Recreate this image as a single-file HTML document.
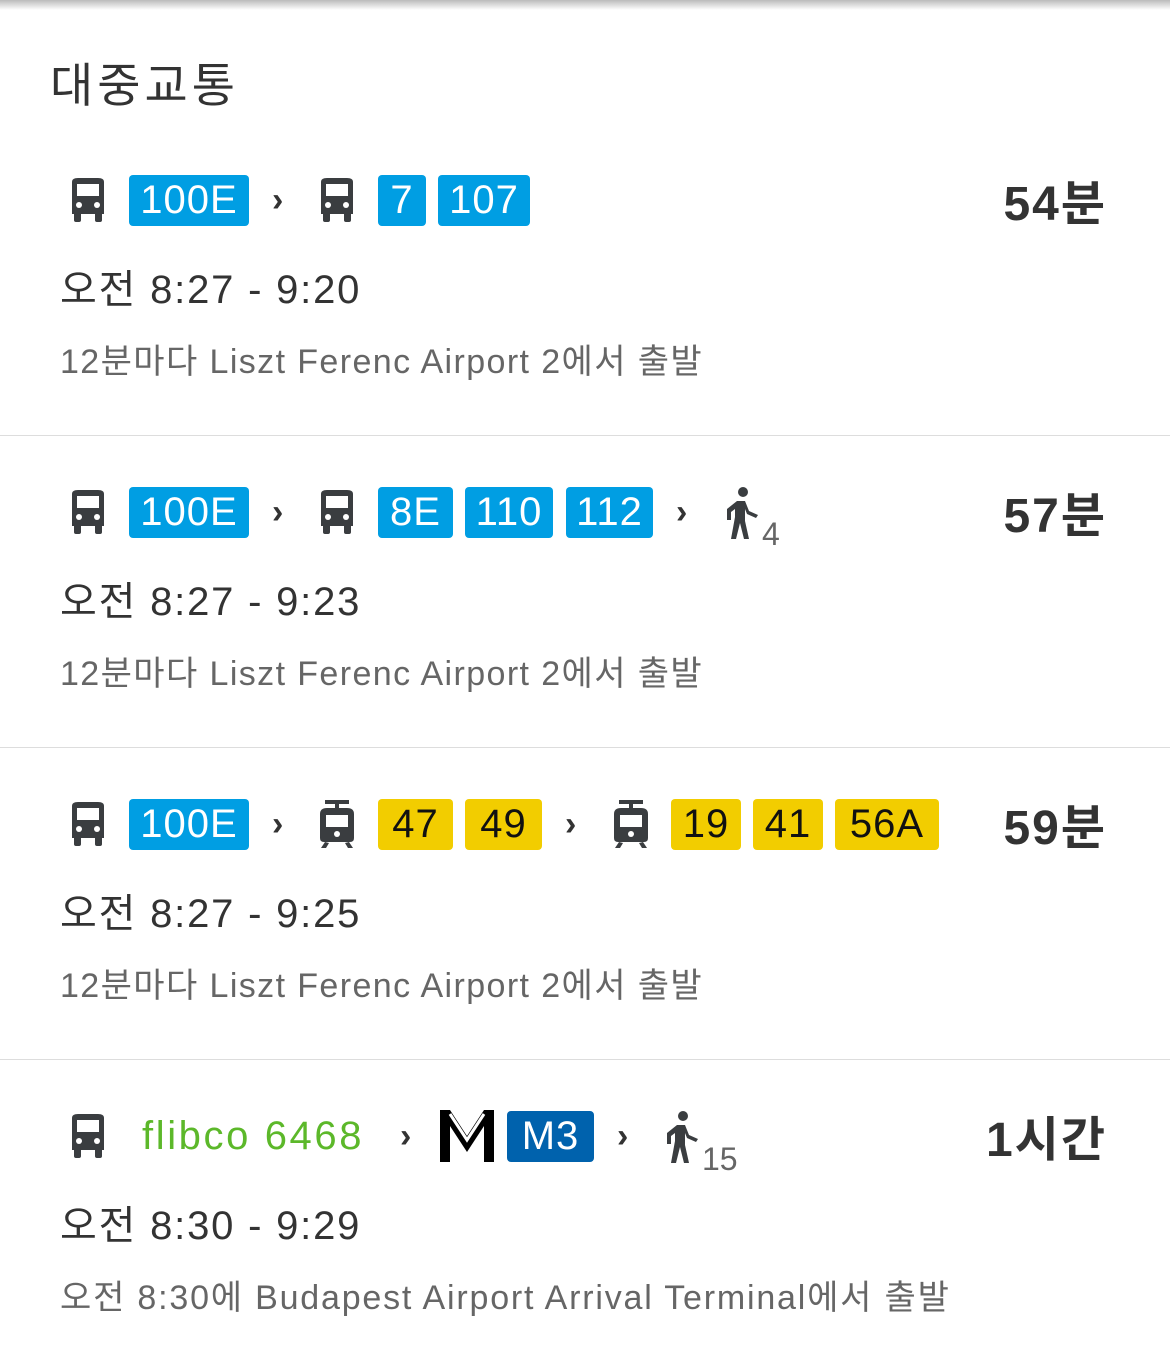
<!DOCTYPE html>
<html><head><meta charset="utf-8"><style>
body{margin:0;width:1170px;height:1371px;background:#fff;position:relative;overflow:hidden;font-family:"Liberation Sans","Noto Sans CJK KR",sans-serif;}
.a{position:absolute;}
.badge{position:absolute;height:51px;border-radius:4px;color:#fff;font-size:40px;line-height:51px;text-align:center;letter-spacing:1px;}
.b{background:#009ee3;}
.y{background:#f2cd00;color:#111;}
.m{background:#0062ad;}
.chev{position:absolute;font-size:34px;color:#333;line-height:40px;font-weight:bold;}
.time{position:absolute;left:60px;font-size:40px;color:#333;line-height:48px;letter-spacing:1.8px;}
.sub{position:absolute;left:60px;font-size:34px;color:#666;line-height:40px;letter-spacing:1.4px;}
.dur{position:absolute;right:63px;font-size:48px;font-weight:bold;color:#333;line-height:56px;letter-spacing:2px;}
.div{position:absolute;left:0;width:1170px;height:1px;background:#ddd;}
.sm{position:absolute;font-size:32px;color:#666;}
</style></head><body>
<svg width="0" height="0" style="position:absolute"><defs>
<symbol id="bus" viewBox="0 0 40 44"><path d="M4 4 Q4 0 10 0 H30 Q36 0 36 4 V36 H4Z" fill="#3a3d40"/><rect x="9" y="6" width="22" height="12" fill="#fff"/><circle cx="11" cy="27" r="3" fill="#fff"/><circle cx="29" cy="27" r="3" fill="#fff"/><rect x="6" y="34" width="7" height="10" rx="2" fill="#3a3d40"/><rect x="27" y="34" width="7" height="10" rx="2" fill="#3a3d40"/></symbol>
<symbol id="tram" viewBox="0 0 40 48"><rect x="8" y="0" width="24" height="4" fill="#3a3d40"/><rect x="18" y="3" width="4" height="6" fill="#3a3d40"/><path d="M3 14 Q3 8 10 8 H30 Q37 8 37 14 V38 Q37 42 33 42 H7 Q3 42 3 38Z" fill="#3a3d40"/><rect x="9" y="15" width="22" height="12" fill="#fff"/><circle cx="20" cy="34" r="3" fill="#fff"/><path d="M8 42 L4 48 H9 L12 43Z M32 42 L36 48 H31 L28 43Z" fill="#3a3d40"/></symbol>
<symbol id="walk" viewBox="0 0 36 52"><circle cx="18" cy="5" r="5" fill="#3a3d40"/><path d="M12 14 H20 L24 24 L33 28 L31 31 L22 27 L20 22 V34 L24 52 H19 L15 36 L11 52 H6 L10 30 V22 L6 25 V33 H2 V22Z" fill="#3a3d40"/></symbol>
</defs></svg>
<div class="a" style="left:0;top:0;width:1170px;height:10px;background:linear-gradient(#bbb,#fff)"></div>
<div class="a" style="left:50px;top:58px;font-size:47px;color:#333;line-height:56px;letter-spacing:4px">대중교통</div>

<div>
<svg class="a" style="left:68px;top:178px" width="40" height="44"><use href="#bus"/></svg>
<div class="badge b" style="left:129px;top:175px;width:120px">100E</div>
<div class="chev" style="left:272px;top:180px">›</div>
<svg class="a" style="left:317px;top:178px" width="40" height="44"><use href="#bus"/></svg>
<div class="badge b" style="left:378px;top:175px;width:48px">7</div>
<div class="badge b" style="left:438px;top:175px;width:92px">107</div>
<div class="dur" style="top:177px">54분</div>
<div class="time" style="top:266px">오전 8:27 - 9:20</div>
<div class="sub" style="top:342px">12분마다 Liszt Ferenc Airport 2에서 출발</div>
</div>
<div class="div" style="top:435px"></div>

<div>
<svg class="a" style="left:68px;top:490px" width="40" height="44"><use href="#bus"/></svg>
<div class="badge b" style="left:129px;top:487px;width:120px">100E</div>
<div class="chev" style="left:272px;top:492px">›</div>
<svg class="a" style="left:317px;top:490px" width="40" height="44"><use href="#bus"/></svg>
<div class="badge b" style="left:378px;top:487px;width:75px">8E</div>
<div class="badge b" style="left:465px;top:487px;width:88px">110</div>
<div class="badge b" style="left:566px;top:487px;width:87px">112</div>
<div class="chev" style="left:676px;top:492px">›</div>
<svg class="a" style="left:725px;top:487px" width="36" height="52"><use href="#walk"/></svg>
<div class="sm" style="left:762px;top:516px">4</div>
<div class="dur" style="top:489px">57분</div>
<div class="time" style="top:578px">오전 8:27 - 9:23</div>
<div class="sub" style="top:654px">12분마다 Liszt Ferenc Airport 2에서 출발</div>
</div>
<div class="div" style="top:747px"></div>

<div>
<svg class="a" style="left:68px;top:802px" width="40" height="44"><use href="#bus"/></svg>
<div class="badge b" style="left:129px;top:799px;width:120px">100E</div>
<div class="chev" style="left:272px;top:804px">›</div>
<svg class="a" style="left:317px;top:800px" width="40" height="48"><use href="#tram"/></svg>
<div class="badge y" style="left:378px;top:799px;width:75px">47</div>
<div class="badge y" style="left:465px;top:799px;width:77px">49</div>
<div class="chev" style="left:565px;top:804px">›</div>
<svg class="a" style="left:611px;top:800px" width="40" height="48"><use href="#tram"/></svg>
<div class="badge y" style="left:671px;top:799px;width:70px">19</div>
<div class="badge y" style="left:753px;top:799px;width:70px">41</div>
<div class="badge y" style="left:835px;top:799px;width:104px">56A</div>
<div class="dur" style="top:801px">59분</div>
<div class="time" style="top:890px">오전 8:27 - 9:25</div>
<div class="sub" style="top:966px">12분마다 Liszt Ferenc Airport 2에서 출발</div>
</div>
<div class="div" style="top:1059px"></div>

<div>
<svg class="a" style="left:68px;top:1114px" width="40" height="44"><use href="#bus"/></svg>
<div class="a" style="left:142px;top:1111px;font-size:40px;line-height:51px;color:#5cb82a;letter-spacing:2.6px">flibco 6468</div>
<div class="chev" style="left:400px;top:1116px">›</div>
<svg class="a" style="left:440px;top:1110px" width="54" height="52" viewBox="0 0 54 52"><path d="M0 0 H10 L27 26 L44 0 H54 V52 H44 V16 L27 42 L10 16 V52 H0Z" fill="#000"/><path d="M10 4 L27 30 L44 4" stroke="#fff" stroke-width="3" fill="none"/></svg>
<div class="badge m" style="left:507px;top:1111px;width:87px">M3</div>
<div class="chev" style="left:617px;top:1116px">›</div>
<svg class="a" style="left:665px;top:1111px" width="36" height="52"><use href="#walk"/></svg>
<div class="sm" style="left:702px;top:1141px">15</div>
<div class="dur" style="top:1113px">1시간</div>
<div class="time" style="top:1202px">오전 8:30 - 9:29</div>
<div class="sub" style="top:1278px;letter-spacing:1.8px">오전 8:30에 Budapest Airport Arrival Terminal에서 출발</div>
</div>
</body></html>
